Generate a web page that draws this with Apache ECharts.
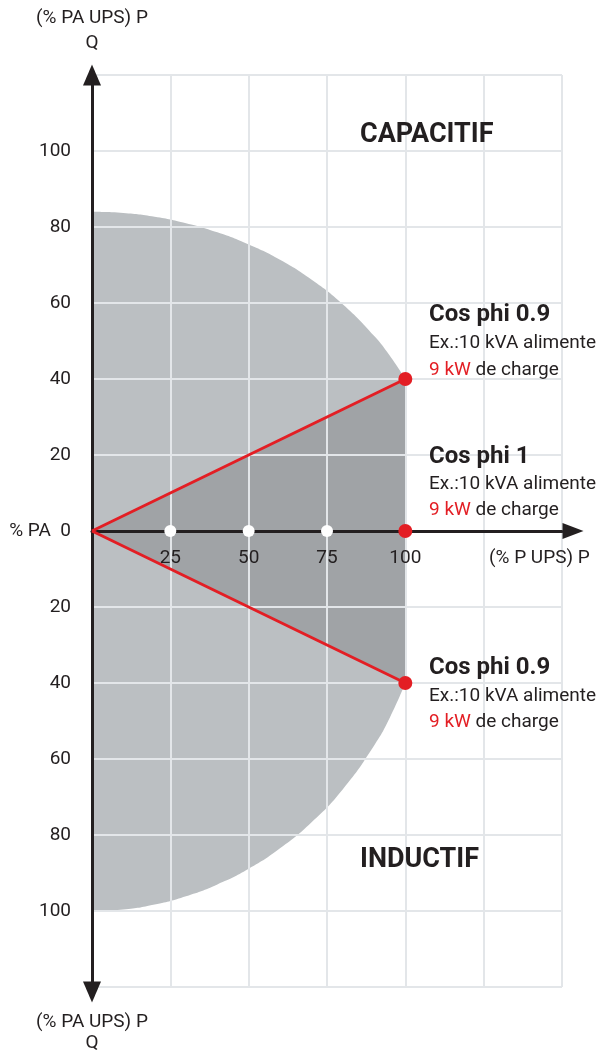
<!DOCTYPE html>
<html><head><meta charset="utf-8">
<script src="https://cdn.jsdelivr.net/npm/echarts@6/dist/echarts.min.js"></script>
<style>html,body{margin:0;padding:0;background:#fff}#c{width:603px;height:1055px}</style>
</head><body><div id="c"></div>
<script>
// Operating envelope, P in % of UPS, Q in % of PA
const upperArcP = [0, 10, 20, 30, 40, 50, 60, 70, 80, 90, 95, 100];
const upperArcQ = [84, 83.7, 82.7, 81, 78.6, 75.4, 71.4, 66.2, 59.7, 51.4, 46.2, 40];
const lowerArcP = [0, 10, 20, 30, 40, 50, 60, 70, 80, 90, 95, 100];
const lowerArcQ = [-100, -99.6, -98.3, -96.1, -93, -88.9, -83.5, -76.7, -68, -56.5, -49.2, -40];
// cos phi 0.9 lines
const phiLineP = [0, 100];
const capacitiveQ = [0, 40];
const inductiveQ = [0, -40];
// markers
const whiteDotP = [25, 50, 75];
const whiteDotQ = [0, 0, 0];
const redDotP = [100, 100, 100];
const redDotQ = [40, 0, -40];
// ticks
const xTickValues = [0, 25, 50, 75, 100, 125, 150];
const xTickLabels = ['', '25', '50', '75', '100', '', ''];
const yTickValues = [-120, -100, -80, -60, -40, -20, 0, 20, 40, 60, 80, 100, 120];
const yTickLabels = ['', '100', '80', '60', '40', '20', '% PA  0', '20', '40', '60', '80', '100', ''];

const FONT = 'Roboto, "Liberation Sans", sans-serif';
const INK = '#231f20';
const RED = '#e31e24';
const zip = (a, b) => a.map((v, i) => [v, b[i]]);

const chart = echarts.init(document.getElementById('c'), null, {renderer: 'canvas'});

function txt(x, y, text, size, weight, align) {
  return {
    type: 'text', x: x, y: y, z: 10,
    style: {
      text: text, fontSize: size, fontWeight: weight || 'normal', fontFamily: FONT,
      fill: INK, textAlign: align || 'left', align: align || 'left',
      textVerticalAlign: 'middle', verticalAlign: 'middle',
      rich: { r: { fill: RED, color: RED, fontSize: size, fontFamily: FONT } }
    }
  };
}

const option = {
  animation: false,
  backgroundColor: '#fff',
  grid: { left: 92, right: 41, top: 75, bottom: 68, containLabel: false },
  xAxis: {
    type: 'value', min: 0, max: 150, interval: 25, z: 1, offset: -456,
    axisLine: { show: true, onZero: false, lineStyle: { color: INK, width: 3 },
      symbol: ['none', 'triangle'], symbolSize: [16, 21], symbolOffset: [0, 11] },
    axisTick: { show: false },
    splitLine: { show: true, showMinLine: true, showMaxLine: true, lineStyle: { color: '#e3e6e9', width: 2 } },
    axisLabel: { margin: 18, fontSize: 19, fontFamily: FONT, color: INK,
      formatter: v => { const i = xTickValues.indexOf(v); return i >= 0 ? xTickLabels[i] : ''; } }
  },
  yAxis: {
    type: 'value', min: -120, max: 120, interval: 20, z: 1,
    axisLine: { show: true, onZero: false, lineStyle: { color: INK, width: 3 },
      symbol: ['triangle', 'triangle'], symbolSize: [18, 21], symbolOffset: [-5, 0] },
    axisTick: { show: false },
    splitLine: { show: true, showMinLine: true, showMaxLine: true, lineStyle: { color: '#e3e6e9', width: 2 } },
    axisLabel: { margin: 21, fontSize: 19, fontFamily: FONT, color: INK,
      formatter: v => { const i = yTickValues.indexOf(v); return i >= 0 ? yTickLabels[i] : ''; } }
  },
  series: [
    { type: 'line', z: 0, smooth: true, symbol: 'none', data: zip(upperArcP, upperArcQ),
      lineStyle: { width: 0, opacity: 0 }, areaStyle: { color: '#bbbfc2', opacity: 1 } },
    { type: 'line', z: 0, smooth: true, symbol: 'none', data: zip(lowerArcP, lowerArcQ),
      lineStyle: { width: 0, opacity: 0 }, areaStyle: { color: '#bbbfc2', opacity: 1 } },
    { type: 'line', z: 0, symbol: 'none', data: zip(phiLineP, capacitiveQ),
      lineStyle: { width: 0, opacity: 0 }, areaStyle: { color: '#a0a3a6', opacity: 1 } },
    { type: 'line', z: 0, symbol: 'none', data: zip(phiLineP, inductiveQ),
      lineStyle: { width: 0, opacity: 0 }, areaStyle: { color: '#a0a3a6', opacity: 1 } },
    { type: 'line', z: 3, symbol: 'none', data: zip(phiLineP, capacitiveQ),
      lineStyle: { color: RED, width: 3 } },
    { type: 'line', z: 3, symbol: 'none', data: zip(phiLineP, inductiveQ),
      lineStyle: { color: RED, width: 3 } },
    { type: 'scatter', z: 4, symbol: 'circle', symbolSize: 12, data: zip(whiteDotP, whiteDotQ),
      itemStyle: { color: '#ffffff', opacity: 1 } },
    { type: 'scatter', z: 4, symbol: 'circle', symbolSize: 14, data: zip(redDotP, redDotQ),
      itemStyle: { color: RED, opacity: 1 } }
  ],
  graphic: [
    txt(92, 18, '(% PA UPS) P', 19, 'normal', 'center'),
    txt(92, 43, 'Q', 19, 'normal', 'center'),
    txt(92, 1022, '(% PA UPS) P', 19, 'normal', 'center'),
    txt(92, 1043, 'Q', 19, 'normal', 'center'),
    txt(489, 558, '(% P UPS) P', 19),
    txt(360, 135, 'CAPACITIF', 27, 'bold'),
    txt(360, 860, 'INDUCTIF', 27, 'bold'),
    txt(429, 315, 'Cos phi 0.9', 24, 'bold'),
    txt(429, 343, 'Ex.:10 kVA alimente', 19),
    txt(429, 370, '{r|9 kW} de charge', 19),
    txt(429, 457, 'Cos phi 1', 24, 'bold'),
    txt(429, 484, 'Ex.:10 kVA alimente', 19),
    txt(429, 510, '{r|9 kW} de charge', 19),
    txt(429, 668, 'Cos phi 0.9', 24, 'bold'),
    txt(429, 696, 'Ex.:10 kVA alimente', 19),
    txt(429, 722, '{r|9 kW} de charge', 19)
  ]
};
chart.setOption(option);
</script></body></html>
